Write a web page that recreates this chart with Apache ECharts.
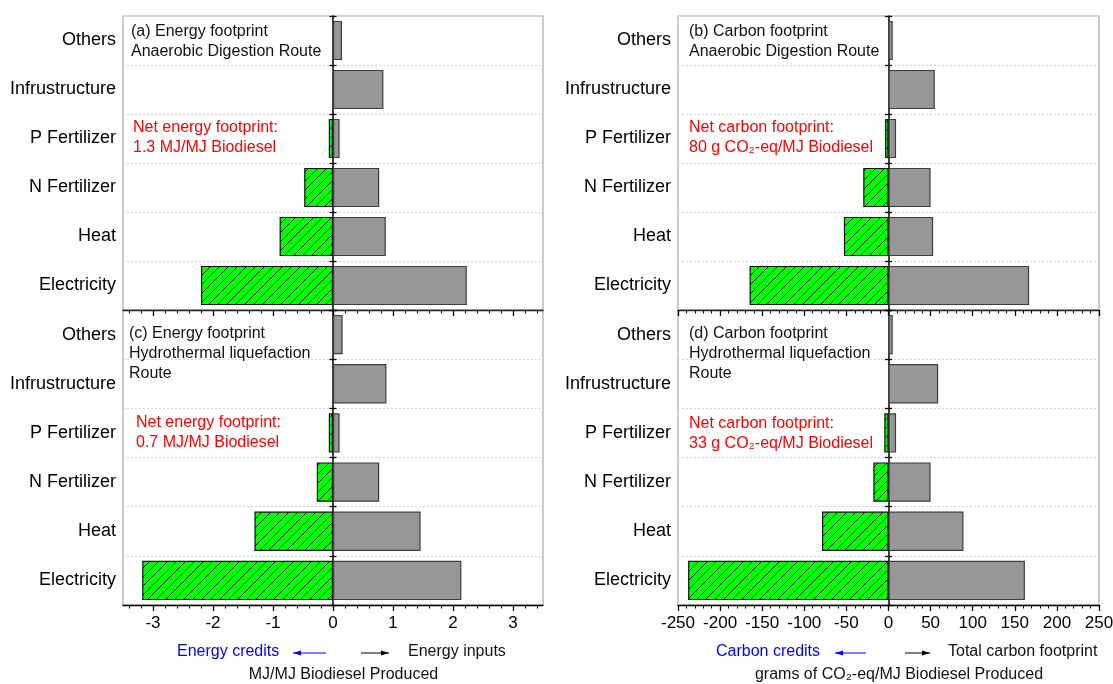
<!DOCTYPE html>
<html><head><meta charset="utf-8">
<script src="https://cdn.jsdelivr.net/npm/echarts@6/dist/echarts.min.js"></script>
<style>html,body{margin:0;padding:0;background:#fff}#c{width:1113px;height:684px}</style>
</head><body><div id="c"></div>
<script>
// ---------------- data ----------------
const categories = ['Others', 'Infrustructure', 'P Fertilizer', 'N Fertilizer', 'Heat', 'Electricity'];
// (a) Energy footprint, Anaerobic Digestion Route (MJ/MJ)
const energyAD_inputs  = [0.15, 0.84, 0.11, 0.77, 0.88, 2.23];
const energyAD_credits = [null, null, -0.07, -0.48, -0.89, -2.20];
// (c) Energy footprint, Hydrothermal liquefaction Route (MJ/MJ)
const energyHTL_inputs  = [0.16, 0.89, 0.11, 0.77, 1.46, 2.14];
const energyHTL_credits = [null, null, -0.07, -0.27, -1.31, -3.18];
// (b) Carbon footprint, Anaerobic Digestion Route (g CO2-eq/MJ)
const carbonAD_inputs  = [5, 55, 9, 50, 53, 167];
const carbonAD_credits = [null, null, -4, -30, -53, -165];
// (d) Carbon footprint, Hydrothermal liquefaction Route (g CO2-eq/MJ)
const carbonHTL_inputs  = [5, 59, 9, 50, 89, 162];
const carbonHTL_credits = [null, null, -5, -18, -79, -238];
// tick labels
const energyTicks = [-3, -2, -1, 0, 1, 2, 3];
const energyMinorTicks = [-3.4, -3.2, -2.8, -2.6, -2.4, -2.2, -1.8, -1.6, -1.4, -1.2, -0.8, -0.6, -0.4, -0.2,
  0.2, 0.4, 0.6, 0.8, 1.2, 1.4, 1.6, 1.8, 2.2, 2.4, 2.6, 2.8, 3.2, 3.4];
const carbonTicks = [-250, -200, -150, -100, -50, 0, 50, 100, 150, 200, 250];

// ---------------- style ----------------
const FONT = '"Liberation Sans", Arial, Helvetica, sans-serif';
const GRAY = '#979797';
function makeHatch() {
  const s = 9;
  const c = document.createElement('canvas');
  c.width = s; c.height = s;
  const g = c.getContext('2d');
  g.fillStyle = '#00ff00'; g.fillRect(0, 0, s, s);
  g.strokeStyle = '#111'; g.lineWidth = 0.9;
  g.beginPath();
  g.moveTo(0, s); g.lineTo(s, 0);
  g.moveTo(-1, 1); g.lineTo(1, -1);
  g.moveTo(s - 1, s + 1); g.lineTo(s + 1, s - 1);
  g.stroke();
  return c;
}
const hatch = makeHatch();

const grids = [
  { left: 123, top: 16, width: 420, height: 294 },   // a
  { left: 678, top: 16, width: 421, height: 294 },   // b
  { left: 123, top: 310, width: 420, height: 295 },  // c
  { left: 678, top: 310, width: 421, height: 295 }   // d
].map(g => Object.assign({ show: true, borderColor: '#a8a8a8', borderWidth: 1.2, backgroundColor: 'transparent',
  containLabel: false, outerBoundsMode: 'none' }, g));

const E = { min: -3.5, max: 3.5 };
const C = { min: -250, max: 250, interval: 50 };
const noSplit = { show: false };
const fmt = v => (v < 0 ? '-' + Math.abs(v) : String(v));
const xAxes = [
  // 0: grid a (hidden scale)
  Object.assign({ type: 'value', gridIndex: 0, show: false, splitLine: noSplit }, E),
  // 1: grid b (hidden scale)
  Object.assign({ type: 'value', gridIndex: 1, show: false, splitLine: noSplit }, C),
  // 2: grid c bottom, labels + major ticks
  Object.assign({ type: 'value', gridIndex: 2, position: 'bottom', splitLine: noSplit,
    axisLine: { show: true, onZero: false, lineStyle: { color: '#000', width: 1.3 } },
    axisTick: { show: true, length: 6, customValues: energyTicks, lineStyle: { color: '#000', width: 1.3 } },
    axisLabel: { customValues: energyTicks, fontSize: 17, color: '#000', fontFamily: FONT, margin: 10, formatter: fmt } }, E),
  // 3: grid c bottom minor ticks
  Object.assign({ type: 'value', gridIndex: 2, position: 'bottom', splitLine: noSplit,
    axisLine: { show: false, onZero: false },
    axisTick: { show: true, length: 3.5, customValues: energyMinorTicks, lineStyle: { color: '#000', width: 1 } },
    axisLabel: { show: false } }, E),
  // 4: grid c top, major ticks inside
  Object.assign({ type: 'value', gridIndex: 2, position: 'top', splitLine: noSplit,
    axisLine: { show: true, onZero: false, lineStyle: { color: '#222', width: 1.3 } },
    axisTick: { show: true, inside: true, length: 6, customValues: energyTicks, lineStyle: { color: '#000', width: 1.3 } },
    axisLabel: { show: false } }, E),
  // 5: grid c top, minor ticks inside
  Object.assign({ type: 'value', gridIndex: 2, position: 'top', splitLine: noSplit,
    axisLine: { show: false, onZero: false },
    axisTick: { show: true, inside: true, length: 3.5, customValues: energyMinorTicks, lineStyle: { color: '#000', width: 1 } },
    axisLabel: { show: false } }, E),
  // 6: grid d bottom
  Object.assign({ type: 'value', gridIndex: 3, position: 'bottom', splitLine: noSplit,
    axisLine: { show: true, onZero: false, lineStyle: { color: '#000', width: 1.3 } },
    axisTick: { show: true, length: 6, lineStyle: { color: '#000', width: 1.3 } },
    minorTick: { show: true, splitNumber: 5, length: 3.5, lineStyle: { color: '#000', width: 1 } },
    axisLabel: { customValues: carbonTicks, fontSize: 17, color: '#000', fontFamily: FONT, margin: 10,
      showMinLabel: true, showMaxLabel: true, hideOverlap: false, formatter: fmt } }, C),
  // 7: grid d top
  Object.assign({ type: 'value', gridIndex: 3, position: 'top', splitLine: noSplit,
    axisLine: { show: true, onZero: false, lineStyle: { color: '#222', width: 1.3 } },
    axisTick: { show: true, inside: true, length: 6, lineStyle: { color: '#000', width: 1.3 } },
    minorTick: { show: true, splitNumber: 5, length: 3.5, lineStyle: { color: '#000', width: 1 } },
    axisLabel: { show: false } }, C)
];

const zeroX = [0, 1, 2, 6]; // x axis (per grid) that carries the series / zero line
const yAxes = [];
for (let g = 0; g < 4; g++) {
  // labels axis
  yAxes.push({ type: 'category', gridIndex: g, data: categories, inverse: true, position: 'left',
    axisLine: { show: false, onZero: false }, axisTick: { show: false },
    axisLabel: { fontSize: 18, color: '#000', fontFamily: FONT, margin: 7 },
    splitLine: { show: true, lineStyle: { color: '#d6d6d6', type: [2, 2], width: 1 } } });
  // zero line with outward ticks
  yAxes.push({ type: 'category', gridIndex: g, data: categories, inverse: true, position: 'left',
    axisLine: { show: true, onZero: true, onZeroAxisIndex: zeroX[g], lineStyle: { color: '#000', width: 1.5 } },
    axisTick: { show: true, length: 3.5, lineStyle: { color: '#000', width: 1.3 } },
    axisLabel: { show: false }, splitLine: { show: false } });
  // inward ticks
  yAxes.push({ type: 'category', gridIndex: g, data: categories, inverse: true, position: 'left',
    axisLine: { show: false, onZero: true, onZeroAxisIndex: zeroX[g] },
    axisTick: { show: true, inside: true, length: 3.5, lineStyle: { color: '#000', width: 1.3 } },
    axisLabel: { show: false }, splitLine: { show: false } });
}

function barPair(xi, yi, inputs, credits) {
  return [
    { type: 'bar', xAxisIndex: xi, yAxisIndex: yi, data: inputs, barWidth: '80%', barGap: '-100%',
      itemStyle: { color: GRAY, borderColor: '#3c3c3c', borderWidth: 1.2 }, silent: true, z: 1 },
    { type: 'bar', xAxisIndex: xi, yAxisIndex: yi, data: credits, barWidth: '80%', barGap: '-100%',
      itemStyle: { color: { image: hatch, repeat: 'repeat' }, borderColor: '#111', borderWidth: 1.2 }, silent: true, z: 1 }
  ];
}
const series = [].concat(
  barPair(0, 0, energyAD_inputs, energyAD_credits),
  barPair(1, 3, carbonAD_inputs, carbonAD_credits),
  barPair(2, 6, energyHTL_inputs, energyHTL_credits),
  barPair(6, 9, carbonHTL_inputs, carbonHTL_credits)
);

// ---------------- annotations ----------------
function txt(x, y, s, opts) {
  return { type: 'text', x: x, y: y, z: 100, silent: true,
    style: Object.assign({ text: s, fontSize: 16, fontFamily: FONT, fill: '#111', verticalAlign: 'middle', align: 'left' }, opts || {}) };
}
function arrow(x1, x2, y, color, headLeft) {
  const hx = headLeft ? x1 : x2;
  const bx = headLeft ? x1 + 8 : x2 - 8;
  return [
    { type: 'line', z: 100, silent: true, shape: { x1: x1, y1: y, x2: x2, y2: y }, style: { stroke: color, lineWidth: 1 } },
    { type: 'polygon', z: 100, silent: true, shape: { points: [[hx, y], [bx, y - 2.5], [bx, y + 2.5]] }, style: { fill: color } }
  ];
}
const RED = '#ff0000', BLUE = '#0000ff';
const graphic = [
  txt(131, 32, '(a) Energy footprint'), txt(131, 52, 'Anaerobic Digestion Route'),
  txt(133, 128, 'Net energy footprint:', { fill: RED }), txt(133, 148, '1.3 MJ/MJ Biodiesel', { fill: RED }),
  txt(689, 32, '(b) Carbon footprint'), txt(689, 52, 'Anaerobic Digestion Route'),
  txt(689, 128, 'Net carbon footprint:', { fill: RED }), txt(689, 148, '80 g CO\u2082-eq/MJ Biodiesel', { fill: RED }),
  txt(129, 334, '(c) Energy footprint'), txt(129, 354, 'Hydrothermal liquefaction'), txt(129, 374, 'Route'),
  txt(136, 423, 'Net energy footprint:', { fill: RED }), txt(136, 443, '0.7 MJ/MJ Biodiesel', { fill: RED }),
  txt(689, 334, '(d) Carbon footprint'), txt(689, 354, 'Hydrothermal liquefaction'), txt(689, 374, 'Route'),
  txt(689, 424, 'Net carbon footprint:', { fill: RED }), txt(689, 444, '33 g CO\u2082-eq/MJ Biodiesel', { fill: RED }),
  txt(177, 652, 'Energy credits', { fill: BLUE }), txt(408, 652, 'Energy inputs'),
  txt(343.5, 675, 'MJ/MJ Biodiesel Produced', { align: 'center' }),
  txt(716, 652, 'Carbon credits', { fill: BLUE }), txt(948, 652, 'Total carbon footprint'),
  txt(899, 675, 'grams of CO\u2082-eq/MJ Biodiesel Produced', { align: 'center' })
].concat(
  arrow(293, 326, 653, BLUE, true), arrow(361, 389, 653, '#000', false),
  arrow(835, 866, 653, BLUE, true), arrow(905, 930, 653, '#000', false)
);

const chart = echarts.init(document.getElementById('c'), null, { renderer: 'canvas' });
chart.setOption({
  animation: false,
  backgroundColor: '#fff',
  textStyle: { fontFamily: FONT },
  grid: grids,
  xAxis: xAxes,
  yAxis: yAxes,
  series: series,
  graphic: graphic
});
</script></body></html>
